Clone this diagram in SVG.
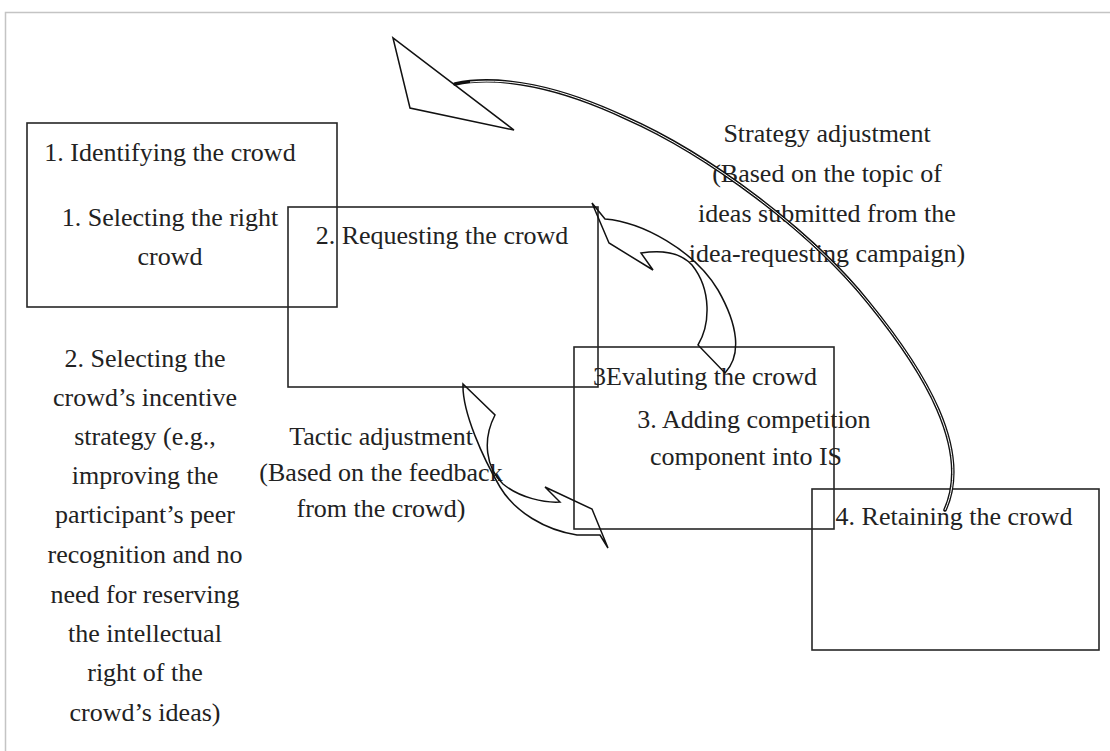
<svg xmlns="http://www.w3.org/2000/svg" width="1110" height="751" viewBox="0 0 1110 751">
<style>
.box{fill:none;stroke:#262626;stroke-width:1.6}
.t{font-family:"Liberation Serif","Times New Roman",serif;font-size:26px;fill:#222;text-anchor:middle}
.arr{fill:none;stroke:#111;stroke-width:1.5;stroke-linejoin:miter}
</style>
<rect width="1110" height="751" fill="#fff"/>
<path d="M5.5,751 L5.5,12.5 L1110,12.5" fill="none" stroke="#c4c4c4" stroke-width="1.5"/>

<g id="node1">
<rect class="box" x="27" y="123" width="310" height="184"/>
<text class="t" x="170" y="161">1. Identifying the crowd</text>
<text class="t" x="170" y="226">1. Selecting the right</text>
<text class="t" x="170" y="265">crowd</text>
</g>
<g id="node2">
<rect class="box" x="288" y="207" width="310" height="180"/>
<text class="t" x="442" y="244">2. Requesting the crowd</text>
</g>
<g id="node3">
<rect class="box" x="574" y="347" width="260" height="182"/>
<text class="t" x="705" y="385">3Evaluting the crowd</text>
<text class="t" x="754" y="428">3. Adding competition</text>
<text class="t" x="746" y="465">component into IS</text>
</g>
<g id="node4">
<rect class="box" x="812" y="489" width="287" height="161"/>
<text class="t" x="954" y="525">4. Retaining the crowd</text>
</g>
<g id="left-note">
<text class="t" x="145" y="367">2. Selecting the</text>
<text class="t" x="145" y="406">crowd’s incentive</text>
<text class="t" x="145" y="445">strategy (e.g.,</text>
<text class="t" x="145" y="484">improving the</text>
<text class="t" x="145" y="523">participant’s peer</text>
<text class="t" x="145" y="563">recognition and no</text>
<text class="t" x="145" y="603">need for reserving</text>
<text class="t" x="145" y="642">the intellectual</text>
<text class="t" x="145" y="681">right of the</text>
<text class="t" x="145" y="721">crowd’s ideas)</text>
</g>
<g id="strategy-label">
<text class="t" x="827" y="142">Strategy adjustment</text>
<text class="t" x="827" y="182">(Based on the topic of</text>
<text class="t" x="827" y="222">ideas submitted from the</text>
<text class="t" x="827" y="262">idea-requesting campaign)</text>
</g>
<g id="tactic-label">
<text class="t" x="381" y="445">Tactic adjustment</text>
<text class="t" x="381" y="481">(Based on the feedback</text>
<text class="t" x="381" y="517">from the crowd)</text>
</g>

<g id="connectors">
<path d="M455,84 C500,74 562,88 626,118 C708,154 812,232 868,302 C925,372 972,450 945,510" fill="none" stroke="#111" stroke-width="3.6" stroke-linecap="round"/>
<path d="M470,82 C512,78 562,88 626,118 C708,154 812,232 868,302 C925,372 972,450 945,510" fill="none" stroke="#fff" stroke-width="1" stroke-linecap="butt"/>
<path class="arr" d="M393,38 L410,108 L514,130 Z"/>
<path class="arr" d="M592,203 L605,219 C642,222 694,250 718,290 C738,325 742,355 725,373 L698,345 C710,325 712,290 692,265 C680,252 660,250 641,253 L653,270 L609,243 Z"/>
<path class="arr" d="M463,384 L495,415 C482,440 486,468 503,484 C520,498 545,503 560,502 L545,487 L592,509 L608,548 L600,535 L577,535 C545,530 515,512 500,487 C483,458 462,412 463,384 Z"/>
</g>
</svg>
